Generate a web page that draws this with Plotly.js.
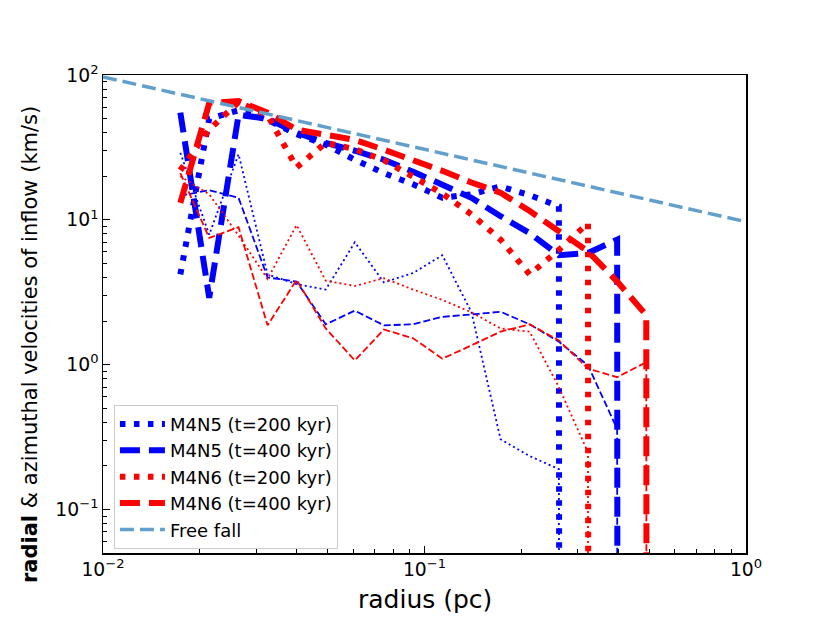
<!DOCTYPE html>
<html>
<head>
<meta charset="utf-8">
<script src="https://cdn.plot.ly/plotly-3.0.1.min.js"></script>
<style>
  body { margin: 0; background: #fff; }
  #chart { width: 830px; height: 623px; }
</style>
</head>
<body>
<div id="chart"></div>
<script>
// radial bins (pc)
const radius = [0.0174, 0.0214, 0.0264, 0.0325, 0.040, 0.0493, 0.0607, 0.0748, 0.0922,
                0.1136, 0.140, 0.1724, 0.2124, 0.2618, 0.3225, 0.3974, 0.4896, 0.6034];

// radial inflow velocity (km/s); a 0 marks the first empty bin
const m4n5_200_rad = [4.2, 50, 57, 49, 39, 33, 26, 21, 17.6, 14.2, 15, 17, 14.8, 12.4, 0];
const m4n5_400_rad = [55, 2.9, 53, 50, 40, 34, 30, 26, 21.5, 17.6, 14.2, 10.6, 8.1, 5.7, 5.9, 7.3, 0];
const m4n6_200_rad = [22, 42, 65, 52.7, 23, 34, 30.8, 25.8, 19.8, 15.2, 10.9, 7.3, 4.2, 6.2, 9.5, 0];
const m4n6_400_rad = [13.1, 64, 66, 55, 42, 39, 35.6, 30.5, 25.9, 21.8, 18.1, 15.4, 11.5, 8.3, 6.06, 3.75, 2.2, 0];

// azimuthal velocity (km/s)
const m4n5_200_az = [29, 7.9, 28.4, 4.2, 3.6, 3.3, 7.0, 3.7, 4.3, 5.7, 2.3, 0.306, 0.234, 0.19, 0];
const m4n5_400_az = [14.7, 16, 14.2, 4.0, 3.75, 1.9, 2.36, 1.87, 1.9, 2.14, 2.22, 2.32, 1.9, 1.44, 0.99, 0.36, 0];
const m4n6_200_az = [20, 15, 7.8, 3.9, 9.2, 3.8, 3.5, 3.95, 3.3, 2.8, 2.3, 1.78, 1.69, 0.70, 0.248, 0];
const m4n6_400_az = [21, 7.5, 8.9, 1.87, 3.85, 1.78, 1.07, 1.75, 1.52, 1.10, 1.36, 1.69, 1.90, 1.47, 0.94, 0.82, 1.04, 0];

// free fall reference
const ffRadius = [0.01, 0.1, 1];
const ffVel = [97, 30.7, 9.7];

// empty bins go far below the axis, like a clipped log plot
const FLOOR = 1e-300;

function series(vals) {
  const ys = vals.map(v => v > 0 ? v : FLOOR);
  return { x: radius.slice(0, ys.length), y: ys };
}

function thick(vals, color, dash, name) {
  const s = series(vals);
  return {
    x: s.x, y: s.y, mode: "lines", name: name,
    line: { color: color, width: 6, dash: dash },
    legendgroup: name
  };
}

function thin(vals, color, dash) {
  const s = series(vals);
  return {
    x: s.x, y: s.y, mode: "lines", showlegend: false, hoverinfo: "skip",
    line: { color: color, width: 1.8, dash: dash }
  };
}

const DOT = "5.5px,8.5px";
const DASH = "20px,9px";
const THINDOT = "2px,3px";
const THINDASH = "7px,3px";

const traces = [
  thick(m4n5_200_rad, "#0000ff", DOT, "M4N5 (t=200 kyr)"),
  thin(m4n5_200_az, "#0000ff", THINDOT),
  thick(m4n5_400_rad, "#0000ff", DASH, "M4N5 (t=400 kyr)"),
  thin(m4n5_400_az, "#0000ff", THINDASH),
  thick(m4n6_200_rad, "#ff0000", DOT, "M4N6 (t=200 kyr)"),
  thin(m4n6_200_az, "#ff0000", THINDOT),
  thick(m4n6_400_rad, "#ff0000", DASH, "M4N6 (t=400 kyr)"),
  thin(m4n6_400_az, "#ff0000", THINDASH),
  {
    x: ffRadius, y: ffVel, mode: "lines", name: "Free fall", legendgroup: "ff",
    line: { color: "#62a0cb", width: 3.5, dash: "14px,6px" }
  }
];

const axisCommon = {
  type: "log",
  dtick: 1,
  exponentformat: "power",
  showgrid: false,
  zeroline: false,
  showline: true,
  mirror: true,
  linecolor: "#000",
  linewidth: 1.5,
  ticks: "inside",
  ticklen: 7,
  tickwidth: 1.2,
  tickcolor: "#000",
  tickfont: { family: "DejaVu Sans", size: 15, color: "#000" },
  minor: { ticks: "inside", ticklen: 4, tickwidth: 1, tickcolor: "#000", dtick: "D1", showgrid: false }
};

const layout = {
  width: 830,
  height: 623,
  margin: { l: 103, r: 84, t: 75, b: 70 },
  paper_bgcolor: "#fff",
  plot_bgcolor: "#fff",
  font: { family: "DejaVu Sans", color: "#000" },
  xaxis: Object.assign({}, axisCommon, {
    range: [-2, 0],
    labelalias: { "1": "10<sup>0</sup>" }
  }),
  yaxis: Object.assign({}, axisCommon, {
    range: [-1.3, 2],
    labelalias: { "1": "10<sup>0</sup>", "10": "10<sup>1</sup>" }
  }),
  showlegend: true,
  legend: {
    x: 0.017, y: 0.009, xanchor: "left", yanchor: "bottom",
    bgcolor: "rgba(255,255,255,0.85)",
    bordercolor: "#cccccc",
    borderwidth: 1,
    font: { family: "DejaVu Sans", size: 18, color: "#000" },
    itemwidth: 45,
    traceorder: "grouped",
    tracegroupgap: 0
  },
  annotations: [
    {
      text: "radius (pc)",
      xref: "paper", yref: "paper", x: 0.5, y: -0.098,
      xanchor: "center", yanchor: "middle", showarrow: false,
      font: { family: "DejaVu Sans", size: 25, color: "#000" }
    },
    {
      text: "<b>radial</b> & azimuthal velocities of inflow (km/s)",
      xref: "paper", yref: "paper", x: -0.1135, y: 0.435,
      xanchor: "center", yanchor: "middle", textangle: -90, showarrow: false,
      font: { family: "DejaVu Sans", size: 21, color: "#000" }
    }
  ]
};

Plotly.newPlot("chart", traces, layout, { displayModeBar: false, staticPlot: true });
</script>
</body>
</html>
